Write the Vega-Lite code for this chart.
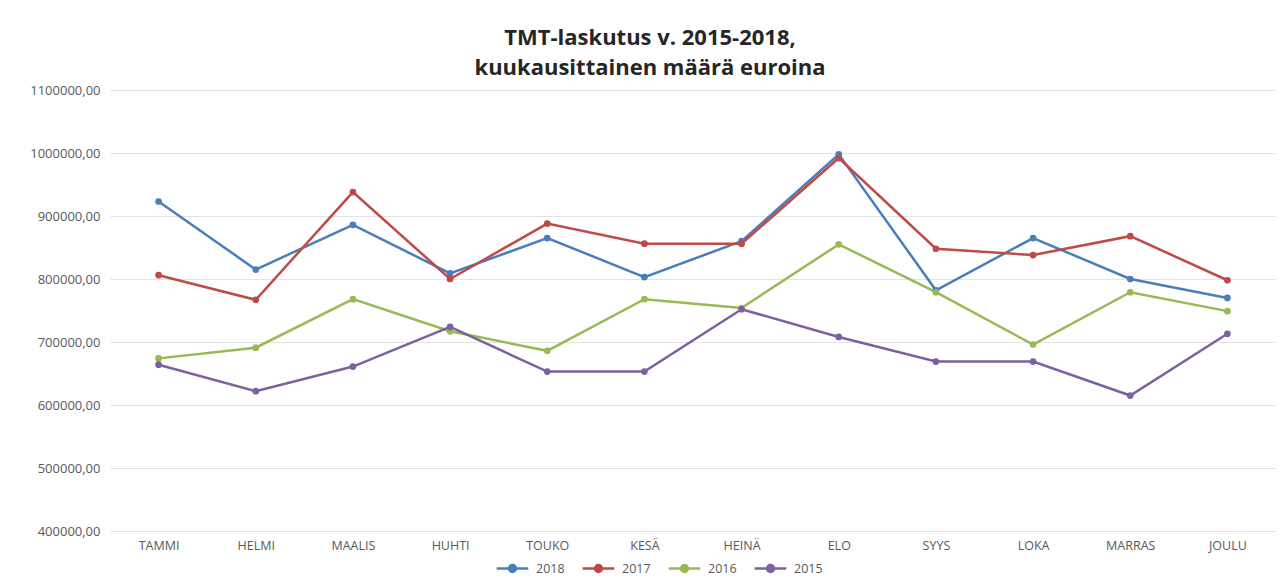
{
  "$schema": "https://vega.github.io/schema/vega-lite/v6.json",
  "autosize": "none",
  "width": 1166,
  "height": 441,
  "padding": {"left": 110, "top": 90, "right": 7, "bottom": 48},
  "background": "white",
  "title": {
    "text": ["TMT-laskutus v. 2015-2018,", "kuukausittainen määrä euroina"],
    "anchor": "middle",
    "frame": "group",
    "dx": -43,
    "offset": 4,
    "font": "Open Sans",
    "fontSize": 22,
    "fontWeight": "bold",
    "color": "#262626",
    "lineHeight": 30
  },
  "data": {
    "values": [
      {"kk": "TAMMI", "vuosi": "2018", "euroa": 923000},
      {"kk": "HELMI", "vuosi": "2018", "euroa": 815000},
      {"kk": "MAALIS", "vuosi": "2018", "euroa": 886000},
      {"kk": "HUHTI", "vuosi": "2018", "euroa": 809000},
      {"kk": "TOUKO", "vuosi": "2018", "euroa": 865000},
      {"kk": "KESÄ", "vuosi": "2018", "euroa": 803000},
      {"kk": "HEINÄ", "vuosi": "2018", "euroa": 860000},
      {"kk": "ELO", "vuosi": "2018", "euroa": 998000},
      {"kk": "SYYS", "vuosi": "2018", "euroa": 782000},
      {"kk": "LOKA", "vuosi": "2018", "euroa": 865000},
      {"kk": "MARRAS", "vuosi": "2018", "euroa": 800000},
      {"kk": "JOULU", "vuosi": "2018", "euroa": 770000},
      {"kk": "TAMMI", "vuosi": "2017", "euroa": 806000},
      {"kk": "HELMI", "vuosi": "2017", "euroa": 767000},
      {"kk": "MAALIS", "vuosi": "2017", "euroa": 938000},
      {"kk": "HUHTI", "vuosi": "2017", "euroa": 800000},
      {"kk": "TOUKO", "vuosi": "2017", "euroa": 888000},
      {"kk": "KESÄ", "vuosi": "2017", "euroa": 856000},
      {"kk": "HEINÄ", "vuosi": "2017", "euroa": 856000},
      {"kk": "ELO", "vuosi": "2017", "euroa": 992000},
      {"kk": "SYYS", "vuosi": "2017", "euroa": 848000},
      {"kk": "LOKA", "vuosi": "2017", "euroa": 838000},
      {"kk": "MARRAS", "vuosi": "2017", "euroa": 868000},
      {"kk": "JOULU", "vuosi": "2017", "euroa": 798000},
      {"kk": "TAMMI", "vuosi": "2016", "euroa": 674000},
      {"kk": "HELMI", "vuosi": "2016", "euroa": 691000},
      {"kk": "MAALIS", "vuosi": "2016", "euroa": 768000},
      {"kk": "HUHTI", "vuosi": "2016", "euroa": 717000},
      {"kk": "TOUKO", "vuosi": "2016", "euroa": 686000},
      {"kk": "KESÄ", "vuosi": "2016", "euroa": 768000},
      {"kk": "HEINÄ", "vuosi": "2016", "euroa": 754000},
      {"kk": "ELO", "vuosi": "2016", "euroa": 855000},
      {"kk": "SYYS", "vuosi": "2016", "euroa": 779000},
      {"kk": "LOKA", "vuosi": "2016", "euroa": 696000},
      {"kk": "MARRAS", "vuosi": "2016", "euroa": 779000},
      {"kk": "JOULU", "vuosi": "2016", "euroa": 749000},
      {"kk": "TAMMI", "vuosi": "2015", "euroa": 664000},
      {"kk": "HELMI", "vuosi": "2015", "euroa": 622000},
      {"kk": "MAALIS", "vuosi": "2015", "euroa": 661000},
      {"kk": "HUHTI", "vuosi": "2015", "euroa": 724000},
      {"kk": "TOUKO", "vuosi": "2015", "euroa": 653000},
      {"kk": "KESÄ", "vuosi": "2015", "euroa": 653000},
      {"kk": "HEINÄ", "vuosi": "2015", "euroa": 752000},
      {"kk": "ELO", "vuosi": "2015", "euroa": 708000},
      {"kk": "SYYS", "vuosi": "2015", "euroa": 669000},
      {"kk": "LOKA", "vuosi": "2015", "euroa": 669000},
      {"kk": "MARRAS", "vuosi": "2015", "euroa": 615000},
      {"kk": "JOULU", "vuosi": "2015", "euroa": 713000}
    ]
  },
  "mark": {"type": "line", "strokeWidth": 2.5, "point": {"filled": true, "size": 45, "opacity": 1}},
  "encoding": {
    "x": {
      "field": "kk",
      "type": "ordinal",
      "sort": ["TAMMI", "HELMI", "MAALIS", "HUHTI", "TOUKO", "KESÄ", "HEINÄ", "ELO", "SYYS", "LOKA", "MARRAS", "JOULU"],
      "scale": {"type": "point", "padding": 0.5},
      "axis": {
        "title": null,
        "domain": false,
        "ticks": false,
        "grid": false,
        "labelAngle": 0,
        "labelPadding": 8,
        "labelFont": "Open Sans",
        "labelFontSize": 12.5,
        "labelColor": "#595959"
      }
    },
    "y": {
      "field": "euroa",
      "type": "quantitative",
      "scale": {"domain": [400000, 1100000], "nice": false, "zero": false},
      "axis": {
        "title": null,
        "values": [400000, 500000, 600000, 700000, 800000, 900000, 1000000, 1100000],
        "labelExpr": "replace(format(datum.value, '.2f'), '.', ',')",
        "domain": false,
        "ticks": false,
        "grid": true,
        "gridColor": "#e3e3e3",
        "gridWidth": 1,
        "labelPadding": 10,
        "labelFont": "Open Sans",
        "labelFontSize": 13,
        "labelColor": "#595959"
      }
    },
    "color": {
      "field": "vuosi",
      "type": "nominal",
      "scale": {"domain": ["2018", "2017", "2016", "2015"], "range": ["#4a7ebb", "#be4b48", "#98b954", "#7d60a0"]},
      "legend": {
        "title": null,
        "orient": "none",
        "direction": "horizontal",
        "legendX": 385,
        "legendY": 461,
        "symbolType": "M-1,0L1,0M0.22,0A0.22,0.22 0 1,1 -0.22,0A0.22,0.22 0 1,1 0.22,0Z",
        "symbolSize": 1000,
        "symbolStrokeWidth": 2.5,
        "labelFont": "Open Sans",
        "labelFontSize": 12.5,
        "labelColor": "#595959",
        "columnPadding": 12,
        "labelOffset": 6
      }
    }
  },
  "config": {
    "view": {"stroke": null}
  }
}
